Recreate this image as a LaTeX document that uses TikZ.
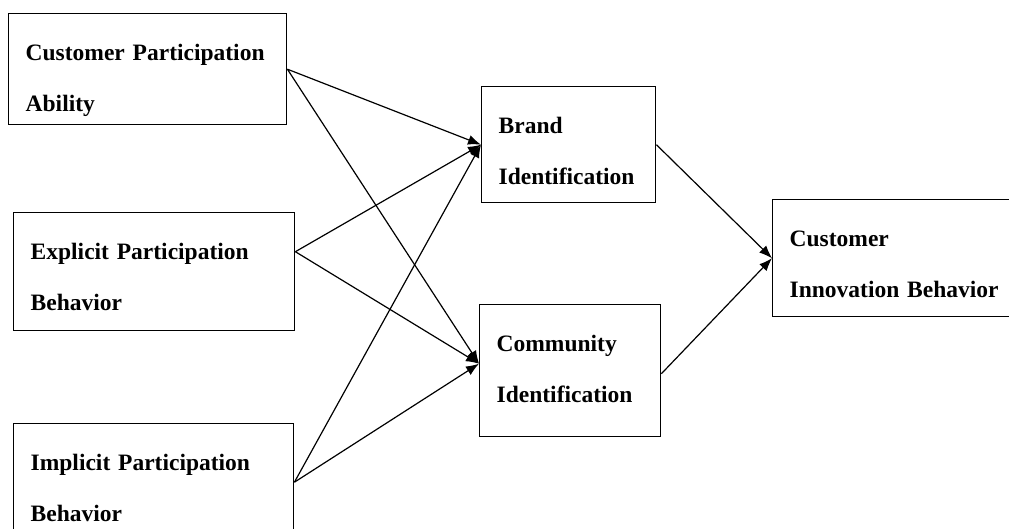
\documentclass[tikz,border=0pt]{standalone}
\usepackage{fontspec}
\setmainfont{Liberation Serif}
\usetikzlibrary{arrows.meta}
\hyphenpenalty=10000
\tikzset{
  varbox/.style={draw, line width=1.4pt, anchor=north west, align=left,
    inner xsep=17pt, inner ysep=0pt, text height=47pt,
    font=\fontsize{23.5}{51}\selectfont\bfseries},
  link/.style={->, line width=1.2pt}
}

\begin{document}
\begin{tikzpicture}[x=1pt,y=-1pt,>={Latex[length=13pt,width=10pt]}]
      \useasboundingbox (0,0) rectangle (1009,528);
      \clip (0,0) rectangle (1009,528);
      \node[varbox,text width=244pt,text depth=64pt] (cpa) at (8,13) {Customer Participation\\Ability};
      \node[varbox,text width=247pt,text depth=71pt] (epb) at (13,212) {Explicit Participation\\Behavior};
      \node[varbox,text width=246pt,text depth=70pt] (ipb) at (13,423) {Implicit Participation\\Behavior};
      \node[varbox,text width=140pt,text depth=69pt] (brand) at (481,86) {Brand\\Identification};
      \node[varbox,text width=147pt,text depth=85pt] (comm) at (479,304) {Community\\Identification};
      \node[varbox,text width=216pt,text depth=70pt] (cib) at (772,199) {Customer\\Innovation Behavior};
      \draw[link] (cpa.east) -- (brand.west);
      \draw[link] (cpa.east) -- ([yshift=7pt]comm.west);
      \draw[link] ([yshift=20pt]epb.east) -- (brand.west);
      \draw[link] ([yshift=20pt]epb.east) -- ([yshift=7pt]comm.west);
      \draw[link] (ipb.east) -- (brand.west);
      \draw[link] (ipb.east) -- ([yshift=7pt]comm.west);
      \draw[link] (brand.east) -- (cib.west);
      \draw[link] ([yshift=-3pt]comm.east) -- (cib.west);
\end{tikzpicture}
\end{document}
